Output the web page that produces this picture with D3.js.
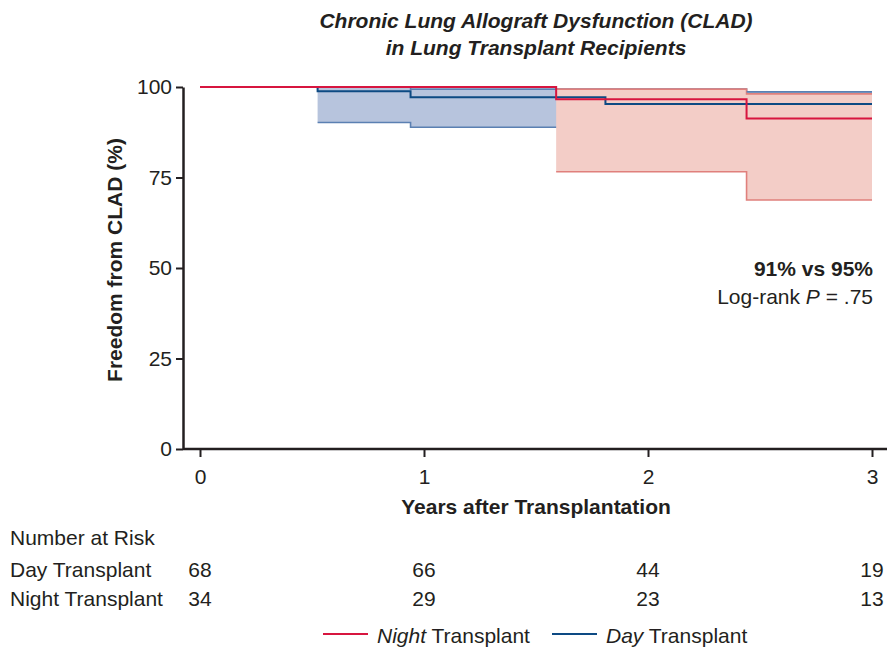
<!DOCTYPE html>
<html>
<head>
<meta charset="utf-8">
<script src="https://cdn.jsdelivr.net/npm/d3@7"></script>
<style>
  body { margin: 0; background: #fff; }
  svg { display: block; font-family: 'Liberation Sans', Arial, sans-serif; }
</style>
</head>
<body>
<div id="chart"></div>
<script>
// step times (years) and survival (%), one value per step
const dayTimes = [0, 0.525, 0.94, 1.81, 2.44]
const daySurv = [100, 98.8, 97.2, 95.3, 95.3]
const dayUpper = [100, 100, 99.4, 99.4, 98.7]
const dayLower = [100, 90.2, 88.9, 86.5, 84.5]

const nightTimes = [0, 1.59, 2.44]
const nightSurv = [100, 96.6, 91.3]
const nightUpper = [100, 99.4, 98.1]
const nightLower = [100, 76.6, 68.8]

const endTime = 3
const xTicks = [0, 1, 2, 3]
const yTicks = [0, 25, 50, 75, 100]

const riskGroups = ['Day Transplant', 'Night Transplant']
const dayAtRisk = [68, 66, 44, 19]
const nightAtRisk = [34, 29, 23, 13]

const width = 887
const height = 647
const margin = { top: 87, right: 15, bottom: 198, left: 183 }
const textColor = '#231f20'
const dayColor = '#0d4a83'
const nightColor = '#d7153f'
const fs = 21

const svg = d3.select('#chart').append('svg').attr('width', width).attr('height', height)

const x = d3.scaleLinear().domain([0, 3]).range([200, 872])
const y = d3.scaleLinear().domain([0, 100]).range([449, 87])

// turn step arrays into points ending at the last time
function steps(times, vals, from) {
  const pts = []
  for (let i = from; i < times.length; i++) pts.push({ t: times[i], v: vals[i] })
  pts.push({ t: endTime, v: vals[vals.length - 1] })
  return pts
}
function bandSteps(times, lo, hi, from) {
  const pts = []
  for (let i = from; i < times.length; i++) pts.push({ t: times[i], lo: lo[i], hi: hi[i] })
  pts.push({ t: endTime, lo: lo[lo.length - 1], hi: hi[hi.length - 1] })
  return pts
}

const area = d3.area().curve(d3.curveStepAfter)
  .x((d) => x(d.t)).y0((d) => y(d.lo)).y1((d) => y(d.hi))
const upperLine = d3.line().curve(d3.curveStepAfter).x((d) => x(d.t)).y((d) => y(d.hi))
const lowerLine = d3.line().curve(d3.curveStepAfter).x((d) => x(d.t)).y((d) => y(d.lo))
const survLine = d3.line().curve(d3.curveStepAfter).x((d) => x(d.t)).y((d) => y(d.v))

function drawBand(data, fill, edge) {
  const g = svg.append('g')
  g.append('path').datum(data).attr('d', area).attr('fill', fill)
  g.append('path').datum(data).attr('d', upperLine).attr('fill', 'none').attr('stroke', edge).attr('stroke-width', 1.6)
  g.append('path').datum(data).attr('d', lowerLine).attr('fill', 'none').attr('stroke', edge).attr('stroke-width', 1.6)
}

drawBand(bandSteps(dayTimes, dayLower, dayUpper, 1), '#b7c4dd', '#5b80b2')
drawBand(bandSteps(nightTimes, nightLower, nightUpper, 1), '#f3cdc7', '#e0807c')

// day upper edge stays visible above the night band
svg.append('path').datum(bandSteps(dayTimes, dayLower, dayUpper, 4)).attr('d', upperLine)
  .attr('fill', 'none').attr('stroke', '#5b80b2').attr('stroke-width', 1.6)

svg.append('path').datum(steps(dayTimes, daySurv, 0)).attr('d', survLine)
  .attr('fill', 'none').attr('stroke', dayColor).attr('stroke-width', 2)
svg.append('path').datum(steps(nightTimes, nightSurv, 0)).attr('d', survLine)
  .attr('fill', 'none').attr('stroke', nightColor).attr('stroke-width', 2)

// axes
const xAxis = svg.append('g').attr('transform', 'translate(0,449)')
  .call(d3.axisBottom(x).tickValues(xTicks).tickSize(8).tickPadding(12).tickFormat(d3.format('d')))
xAxis.select('.domain').attr('d', `M${margin.left},0H${width}`)
svg.append('g').attr('transform', `translate(${margin.left},0)`)
  .call(d3.axisLeft(y).tickValues(yTicks).tickSize(7).tickPadding(4).tickSizeOuter(0))
svg.selectAll('.domain').attr('stroke', textColor).attr('stroke-width', 2.5)
svg.selectAll('.tick line').attr('stroke', textColor).attr('stroke-width', 2)
svg.selectAll('.tick text').attr('fill', textColor).attr('font-size', fs).attr('font-family', 'Liberation Sans, Arial, sans-serif')

// title
svg.append('text').attr('x', 536).attr('y', 28).attr('text-anchor', 'middle')
  .attr('font-size', fs).attr('font-weight', 'bold').attr('font-style', 'italic').attr('fill', textColor)
  .text('Chronic Lung Allograft Dysfunction (CLAD)')
svg.append('text').attr('x', 536).attr('y', 55).attr('text-anchor', 'middle')
  .attr('font-size', fs).attr('font-weight', 'bold').attr('font-style', 'italic').attr('fill', textColor)
  .text('in Lung Transplant Recipients')

svg.append('text').attr('x', 536).attr('y', 514).attr('text-anchor', 'middle')
  .attr('font-size', fs).attr('font-weight', 'bold').attr('fill', textColor)
  .text('Years after Transplantation')
svg.append('text').attr('transform', 'translate(122,260) rotate(-90)').attr('text-anchor', 'middle')
  .attr('font-size', fs).attr('font-weight', 'bold').attr('fill', textColor)
  .text('Freedom from CLAD (%)')

// annotation
svg.append('text').attr('x', 873).attr('y', 276).attr('text-anchor', 'end')
  .attr('font-size', fs).attr('font-weight', 'bold').attr('fill', textColor).text('91% vs 95%')
const lr = svg.append('text').attr('x', 873).attr('y', 304).attr('text-anchor', 'end')
  .attr('font-size', fs).attr('fill', textColor)
lr.append('tspan').text('Log-rank ')
lr.append('tspan').attr('font-style', 'italic').text('P')
lr.append('tspan').text(' = .75')

// number at risk
svg.append('text').attr('x', 10).attr('y', 545).attr('font-size', fs).attr('fill', textColor).text('Number at Risk')
const riskRows = [dayAtRisk, nightAtRisk]
riskRows.forEach((row, i) => {
  const ry = 577 + i * 29
  svg.append('text').attr('x', 10).attr('y', ry).attr('font-size', fs).attr('fill', textColor).text(riskGroups[i])
  svg.append('g').selectAll('text').data(row).enter().append('text')
    .attr('x', (d, j) => x(xTicks[j])).attr('y', ry).attr('text-anchor', 'middle')
    .attr('font-size', fs).attr('fill', textColor).text((d) => d)
})

// legend
const legendItems = [
  { name: 'Night', color: nightColor, x: 323 },
  { name: 'Day', color: dayColor, x: 552 },
]
legendItems.forEach((it) => {
  svg.append('line').attr('x1', it.x).attr('x2', it.x + 45).attr('y1', 634).attr('y2', 634)
    .attr('stroke', it.color).attr('stroke-width', 2)
  const t = svg.append('text').attr('x', it.x + 54).attr('y', 643).attr('font-size', fs).attr('fill', textColor)
  t.append('tspan').attr('font-style', 'italic').text(it.name)
  t.append('tspan').text(' Transplant')
})
</script>
</body>
</html>
